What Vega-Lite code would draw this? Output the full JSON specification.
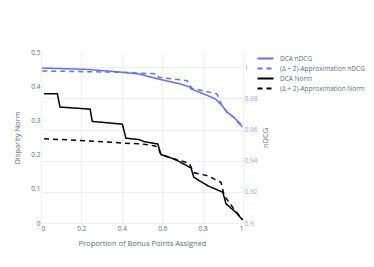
{
  "$schema": "https://vega.github.io/schema/vega-lite/v6.json",
  "width": 202,
  "height": 171,
  "padding": {"left": 13, "top": 49, "right": 5, "bottom": 5},
  "background": "white",
  "config": {
    "font": "Open Sans",
    "view": {"stroke": null},
    "axis": {"domain": false, "ticks": false, "labelFontSize": 6.5, "labelColor": "#5b6b86", "titleFontSize": 7.5, "titleFontWeight": "normal", "titleColor": "#5b6b86", "gridColor": "#ebf0f8", "gridWidth": 1, "format": "~g"}
  },
  "data": {
    "values": [
      {"m": "nDCG", "s": "DCA nDCG", "x": 0.006, "y": 0.9995},
      {"m": "nDCG", "s": "DCA nDCG", "x": 0.234, "y": 0.9986},
      {"m": "nDCG", "s": "DCA nDCG", "x": 0.399, "y": 0.9968},
      {"m": "nDCG", "s": "DCA nDCG", "x": 0.482, "y": 0.9957},
      {"m": "nDCG", "s": "DCA nDCG", "x": 0.507, "y": 0.995},
      {"m": "nDCG", "s": "DCA nDCG", "x": 0.58, "y": 0.9925},
      {"m": "nDCG", "s": "DCA nDCG", "x": 0.69, "y": 0.9893},
      {"m": "nDCG", "s": "DCA nDCG", "x": 0.735, "y": 0.9874},
      {"m": "nDCG", "s": "DCA nDCG", "x": 0.742, "y": 0.9861},
      {"m": "nDCG", "s": "DCA nDCG", "x": 0.805, "y": 0.9829},
      {"m": "nDCG", "s": "DCA nDCG", "x": 0.863, "y": 0.9797},
      {"m": "nDCG", "s": "DCA nDCG", "x": 0.896, "y": 0.9754},
      {"m": "nDCG", "s": "DCA nDCG", "x": 0.921, "y": 0.9712},
      {"m": "nDCG", "s": "DCA nDCG", "x": 0.954, "y": 0.9679},
      {"m": "nDCG", "s": "DCA nDCG", "x": 0.987, "y": 0.9637},
      {"m": "nDCG", "s": "DCA nDCG", "x": 0.996, "y": 0.9615},
      {"m": "nDCG", "s": "(Δ + 2)-Approximation nDCG", "x": 0.006, "y": 0.9976},
      {"m": "nDCG", "s": "(Δ + 2)-Approximation nDCG", "x": 0.399, "y": 0.9968},
      {"m": "nDCG", "s": "(Δ + 2)-Approximation nDCG", "x": 0.482, "y": 0.9963},
      {"m": "nDCG", "s": "(Δ + 2)-Approximation nDCG", "x": 0.574, "y": 0.9957},
      {"m": "nDCG", "s": "(Δ + 2)-Approximation nDCG", "x": 0.582, "y": 0.9936},
      {"m": "nDCG", "s": "(Δ + 2)-Approximation nDCG", "x": 0.723, "y": 0.9914},
      {"m": "nDCG", "s": "(Δ + 2)-Approximation nDCG", "x": 0.747, "y": 0.9865},
      {"m": "nDCG", "s": "(Δ + 2)-Approximation nDCG", "x": 0.871, "y": 0.9829},
      {"m": "nDCG", "s": "(Δ + 2)-Approximation nDCG", "x": 0.896, "y": 0.9754},
      {"m": "nDCG", "s": "(Δ + 2)-Approximation nDCG", "x": 0.921, "y": 0.9712},
      {"m": "nDCG", "s": "(Δ + 2)-Approximation nDCG", "x": 0.954, "y": 0.9679},
      {"m": "nDCG", "s": "(Δ + 2)-Approximation nDCG", "x": 0.996, "y": 0.9615},
      {"m": "Norm", "s": "DCA Norm", "x": 0.015, "y": 0.378},
      {"m": "Norm", "s": "DCA Norm", "x": 0.081, "y": 0.378},
      {"m": "Norm", "s": "DCA Norm", "x": 0.094, "y": 0.339},
      {"m": "Norm", "s": "DCA Norm", "x": 0.243, "y": 0.333},
      {"m": "Norm", "s": "DCA Norm", "x": 0.254, "y": 0.297},
      {"m": "Norm", "s": "DCA Norm", "x": 0.403, "y": 0.289},
      {"m": "Norm", "s": "DCA Norm", "x": 0.42, "y": 0.248},
      {"m": "Norm", "s": "DCA Norm", "x": 0.485, "y": 0.244},
      {"m": "Norm", "s": "DCA Norm", "x": 0.51, "y": 0.238},
      {"m": "Norm", "s": "DCA Norm", "x": 0.578, "y": 0.231},
      {"m": "Norm", "s": "DCA Norm", "x": 0.594, "y": 0.2},
      {"m": "Norm", "s": "DCA Norm", "x": 0.66, "y": 0.187},
      {"m": "Norm", "s": "DCA Norm", "x": 0.743, "y": 0.161},
      {"m": "Norm", "s": "DCA Norm", "x": 0.756, "y": 0.134},
      {"m": "Norm", "s": "DCA Norm", "x": 0.825, "y": 0.109},
      {"m": "Norm", "s": "DCA Norm", "x": 0.9, "y": 0.09},
      {"m": "Norm", "s": "DCA Norm", "x": 0.916, "y": 0.056},
      {"m": "Norm", "s": "DCA Norm", "x": 0.965, "y": 0.031},
      {"m": "Norm", "s": "DCA Norm", "x": 0.998, "y": 0.009},
      {"m": "Norm", "s": "(Δ + 2)-Approximation Norm", "x": 0.015, "y": 0.246},
      {"m": "Norm", "s": "(Δ + 2)-Approximation Norm", "x": 0.1, "y": 0.244},
      {"m": "Norm", "s": "(Δ + 2)-Approximation Norm", "x": 0.234, "y": 0.24},
      {"m": "Norm", "s": "(Δ + 2)-Approximation Norm", "x": 0.4, "y": 0.234},
      {"m": "Norm", "s": "(Δ + 2)-Approximation Norm", "x": 0.5, "y": 0.231},
      {"m": "Norm", "s": "(Δ + 2)-Approximation Norm", "x": 0.56, "y": 0.226},
      {"m": "Norm", "s": "(Δ + 2)-Approximation Norm", "x": 0.578, "y": 0.222},
      {"m": "Norm", "s": "(Δ + 2)-Approximation Norm", "x": 0.594, "y": 0.2},
      {"m": "Norm", "s": "(Δ + 2)-Approximation Norm", "x": 0.66, "y": 0.187},
      {"m": "Norm", "s": "(Δ + 2)-Approximation Norm", "x": 0.693, "y": 0.182},
      {"m": "Norm", "s": "(Δ + 2)-Approximation Norm", "x": 0.734, "y": 0.174},
      {"m": "Norm", "s": "(Δ + 2)-Approximation Norm", "x": 0.748, "y": 0.158},
      {"m": "Norm", "s": "(Δ + 2)-Approximation Norm", "x": 0.759, "y": 0.147},
      {"m": "Norm", "s": "(Δ + 2)-Approximation Norm", "x": 0.825, "y": 0.138},
      {"m": "Norm", "s": "(Δ + 2)-Approximation Norm", "x": 0.891, "y": 0.119},
      {"m": "Norm", "s": "(Δ + 2)-Approximation Norm", "x": 0.907, "y": 0.08},
      {"m": "Norm", "s": "(Δ + 2)-Approximation Norm", "x": 0.95, "y": 0.045},
      {"m": "Norm", "s": "(Δ + 2)-Approximation Norm", "x": 0.998, "y": 0.01}
    ]
  },
  "encoding": {
    "x": {"field": "x", "type": "quantitative", "scale": {"domain": [0, 1], "nice": false},
      "axis": {"title": "Proportion of Bonus Points Assigned", "values": [0, 0.2, 0.4, 0.6, 0.8, 1], "labelPadding": 2, "titlePadding": 8, "grid": true}},
    "color": {"field": "s", "type": "nominal",
      "scale": {"domain": ["DCA nDCG", "(Δ + 2)-Approximation nDCG", "DCA Norm", "(Δ + 2)-Approximation Norm"], "range": ["#636efa", "#636efa", "#000000", "#000000"]},
      "legend": {"title": null, "orient": "none", "legendX": 221, "legendY": 3, "symbolType": "M-3.2,0H3.2", "symbolSize": 25, "symbolStrokeWidth": 2, "labelFontSize": 6.5, "labelColor": "#5b6b86", "labelOffset": 11, "rowPadding": 1}},
    "strokeDash": {"field": "s", "type": "nominal",
      "scale": {"domain": ["DCA nDCG", "(Δ + 2)-Approximation nDCG", "DCA Norm", "(Δ + 2)-Approximation Norm"], "range": [[1, 0], [5, 4], [1, 0], [5, 4]]},
      "legend": {"title": null, "orient": "none", "legendX": 221, "legendY": 3, "symbolType": "M-3.2,0H3.2", "symbolSize": 25, "symbolStrokeWidth": 2, "labelFontSize": 6.5, "labelColor": "#5b6b86", "labelOffset": 11, "rowPadding": 1}}
  },
  "layer": [
    {
      "transform": [{"filter": "datum.m == 'nDCG'"}],
      "mark": {"type": "line", "strokeWidth": 1.5},
      "encoding": {
        "y": {"field": "y", "type": "quantitative", "scale": {"domain": [0.9, 1.0098], "nice": false, "zero": false},
          "axis": {"orient": "right", "title": "nDCG", "titleAngle": -90, "values": [0.9, 0.92, 0.94, 0.96, 0.98, 1], "labelColor": "#9aa0f8", "labelPadding": 1, "titlePadding": 13, "grid": true}}
      }
    },
    {
      "transform": [{"filter": "datum.m == 'Norm'"}],
      "mark": {"type": "line", "strokeWidth": 1.5},
      "encoding": {
        "y": {"field": "y", "type": "quantitative", "scale": {"domain": [0, 0.5], "nice": false},
          "axis": {"orient": "left", "title": "Disparity Norm", "values": [0, 0.1, 0.2, 0.3, 0.4, 0.5], "labelPadding": 1, "titlePadding": 9, "grid": false}}
      }
    }
  ],
  "resolve": {"scale": {"y": "independent"}}
}
